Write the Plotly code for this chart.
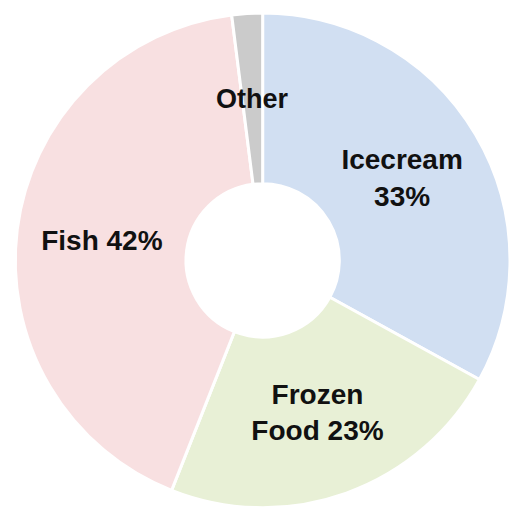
import plotly.graph_objects as go

categories = ["Icecream", "Frozen Food", "Fish", "Other"]
values = [33, 23, 42, 2]
label_text = ["Icecream<br>33%", "Frozen<br>Food 23%", "Fish 42%", ""]
colors = ["#d1dff2", "#e8f0d6", "#f8e0e1", "#cbcbcb"]

FONT = "Liberation Sans, Arial, sans-serif"

fig = go.Figure()
fig.add_trace(go.Pie(
    labels=categories,
    values=values,
    text=label_text,
    texttemplate="<b>%{text}</b>",
    textposition="inside",
    insidetextorientation="horizontal",
    sort=False,
    direction="clockwise",
    rotation=0,
    hole=0.31,
    marker=dict(colors=colors, line=dict(color="#ffffff", width=3)),
    textfont=dict(family=FONT, size=28, color="#111111"),
    domain=dict(x=[0.03, 1.0], y=[0.0, 0.975]),
    showlegend=False,
))
fig.add_annotation(
    text="<b>Other</b>", x=0.496, y=0.805, xref="paper", yref="paper",
    xanchor="center", yanchor="middle",
    showarrow=False,
    font=dict(family=FONT, size=27, color="#111111"),
)
fig.update_layout(
    width=510, height=508,
    margin=dict(l=0, r=0, t=0, b=0),
    paper_bgcolor="white",
    uniformtext=dict(minsize=28, mode="show"),
)
fig.write_html("out.html")
